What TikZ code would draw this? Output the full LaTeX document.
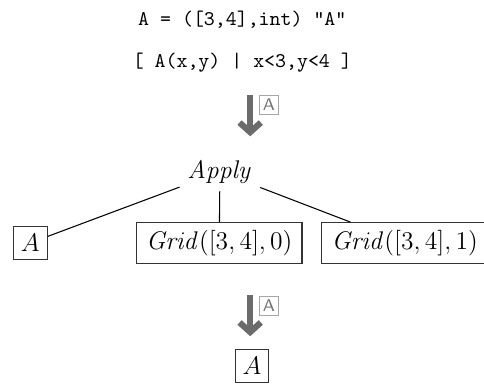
\documentclass[tikz,border=0pt]{standalone}
\usepackage{amsmath}
\usepackage{tikz}
\usetikzlibrary{arrows.meta, positioning}
\tikzset{
  code/.style={font=\fontsize{9.8}{12}\selectfont\ttfamily, inner sep=1pt},
  term/.style={font=\large, inner sep=3.5pt},
  tbox/.style={term, rectangle, draw=black!80, line width=0.5pt},
  rule/.style={draw=black!58, line width=2.9pt,
               -{Straight Barb[length=4.5pt, width=10pt]}},
  tag/.style={rectangle, draw=black!35, text=black!55, font=\sffamily\footnotesize,
              inner sep=1.5pt, minimum width=8.5pt, minimum height=9pt},
}

\begin{document}
\begin{tikzpicture}[
  edge/.style={draw=black, line width=0.5pt}
]
  \useasboundingbox (0,0) rectangle (7.99,-6.36);

  \node[code] (src) at (4.00,-0.33) {A = ([3,4],int) "A"};
  \node[code] (comp) at (4.00,-1.04) {[ A(x,y) | x<3,y<4 ]};

  \coordinate (r1a) at (4.13,-1.57);
  \coordinate (r1b) at (4.13,-2.25);
  \draw[rule] (r1a) -- (r1b);
  \node[tag] (t1) at (4.44,-1.73) {A};

  \node[term] (apply) at (3.63,-2.84) {$\mathit{Apply}$};
  \node[tbox] (arr) at (0.50,-4.01) {$A$};
  \node[tbox, inner xsep=4.5pt] (g0) at (3.62,-4.01) {$\mathit{Grid}([3,4],0)$};
  \node[tbox, inner xsep=4.5pt] (g1) at (6.68,-4.01) {$\mathit{Grid}([3,4],1)$};

  \draw[edge] (apply) -- (arr);
  \draw[edge] (apply) -- (g0);
  \draw[edge] (apply) -- (g1);

  \coordinate (r2a) at (4.13,-4.87);
  \coordinate (r2b) at (4.13,-5.55);
  \draw[rule] (r2a) -- (r2b);
  \node[tag] (t2) at (4.44,-5.05) {A};

  \node[tbox] (res) at (4.16,-6.04) {$A$};
\end{tikzpicture}
\end{document}
